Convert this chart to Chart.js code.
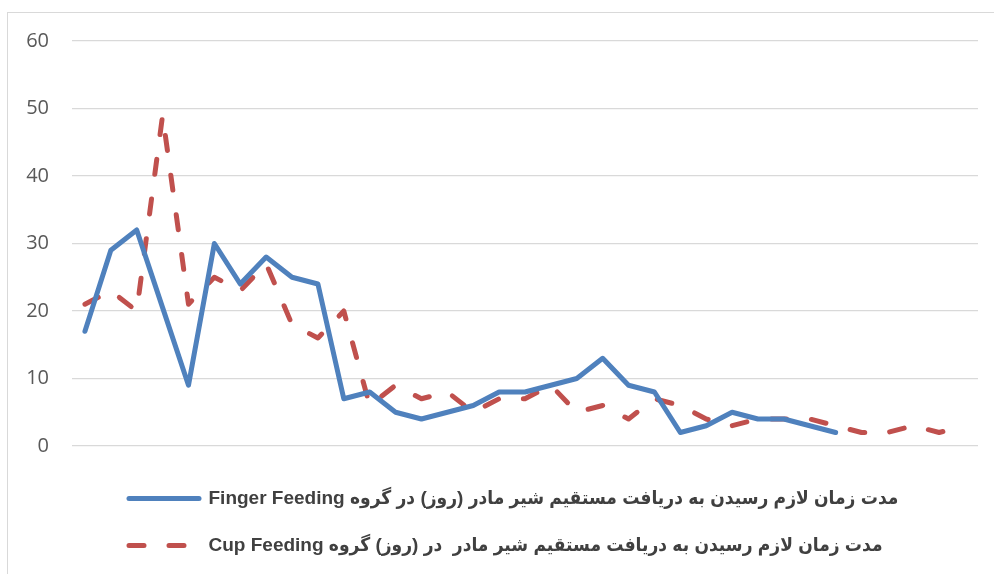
<!DOCTYPE html>
<html>
<head>
<meta charset="utf-8">
<script src="https://cdn.jsdelivr.net/npm/chart.js@4.4.1/dist/chart.umd.min.js"></script>
<style>
  body { margin: 0; background: #fff; overflow: hidden; }
  #frame {
    position: absolute; left: 7px; top: 12px;
    width: 1100px; height: 700px;
    border: 1px solid #d9d9d9;
  }
  #wrap { position: absolute; left: 0; top: 0; width: 994px; height: 574px; }
</style>
</head>
<body>
<div id="frame"></div>
<div id="wrap"><canvas id="feeding-chart" width="994" height="574"></canvas></div>
<script>
const days = ["1", "2", "3", "4", "5", "6", "7", "8", "9", "10", "11", "12",
  "13", "14", "15", "16", "17", "18", "19", "20", "21", "22", "23", "24",
  "25", "26", "27", "28", "29", "30", "31", "32", "33", "34", "35"];

const fingerFeeding = [17, 29, 32, 20.5, 9, 30, 24, 28, 25, 24, 7, 8, 5, 4, 5,
  6, 8, 8, 9, 10, 13, 9, 8, 2, 3, 5, 4, 4, 3, 2];

const cupFeeding = [21, 23, 20, 49, 21, 25, 23, 27, 18, 16, 20, 6, 9, 7, 8,
  5, 7, 7, 9, 5, 6, 4, 7, 6, 4, 3, 4, 4, 4, 3, 2, 2, 3, 2, 3];

const yTicks = [0, 10, 20, 30, 40, 50, 60];

const fingerLabel = "مدت زمان لازم رسیدن به دریافت مستقیم شیر مادر (روز) در گروه Finger Feeding";
const cupLabel = "مدت زمان لازم رسیدن به دریافت مستقیم شیر مادر  در (روز) گروه Cup Feeding";

const canvas = document.getElementById("feeding-chart");

// move the legend so both rows start under the plot like in the original
const legendShift = {
  id: "legendShift",
  afterLayout(chart) {
    chart.legend.left = 101;
  },
};

function legendLabels(chart) {
  const items = Chart.defaults.plugins.legend.labels.generateLabels(chart);
  items.forEach((item, i) => {
    const ds = chart.data.datasets[i];
    item.pointStyle = "line";
    item.strokeStyle = ds.borderColor;
    item.lineWidth = ds.borderWidth;
    item.lineDash = ds.borderDash || [];
    item.lineCap = "round";
  });
  return items;
}

new Chart(canvas, {
  type: "line",
  data: {
    labels: days,
    datasets: [
      {
        label: fingerLabel,
        data: fingerFeeding,
        borderColor: "#4F81BD",
        backgroundColor: "#4F81BD",
        borderWidth: 5,
        borderCapStyle: "round",
        borderJoinStyle: "round",
        pointRadius: 0,
        tension: 0,
      },
      {
        label: cupLabel,
        data: cupFeeding,
        borderColor: "#C0504D",
        backgroundColor: "#C0504D",
        borderWidth: 5,
        borderDash: [15, 25],
        borderCapStyle: "round",
        borderJoinStyle: "round",
        pointRadius: 0,
        tension: 0,
      },
    ],
  },
  options: {
    responsive: false,
    animation: false,
    layout: { padding: { left: 0, right: 16, top: 41, bottom: 9 } },
    plugins: {
      tooltip: { enabled: false },
      legend: {
        position: "bottom",
        align: "start",
        rtl: false,
        textDirection: "rtl",
        labels: {
          usePointStyle: true,
          pointStyle: "line",
          pointStyleWidth: 70,
          boxHeight: 20,
          padding: 28,
          color: "#404040",
          generateLabels: legendLabels,
          font: { family: "'Liberation Sans', 'DejaVu Sans Condensed', sans-serif", size: 19, weight: "bold" },
        },
      },
    },
    scales: {
      x: {
        type: "category",
        offset: true,
        grid: { display: false },
        border: { display: false },
        ticks: { display: false },
        afterFit(axis) { axis.height = 15; },
      },
      y: {
        min: 0,
        max: 60,
        afterFit(axis) { axis.width = 72; },
        afterBuildTicks(axis) { axis.ticks = yTicks.map((v) => ({ value: v })); },
        grid: { color: "#d9d9d9", lineWidth: 1.3, drawTicks: false },
        border: { display: false },
        ticks: {
          padding: 23,
          color: "#595959",
          font: { family: "'Open Sans', sans-serif", size: 20 },
        },
      },
    },
  },
  plugins: [legendShift],
});
</script>
</body>
</html>
